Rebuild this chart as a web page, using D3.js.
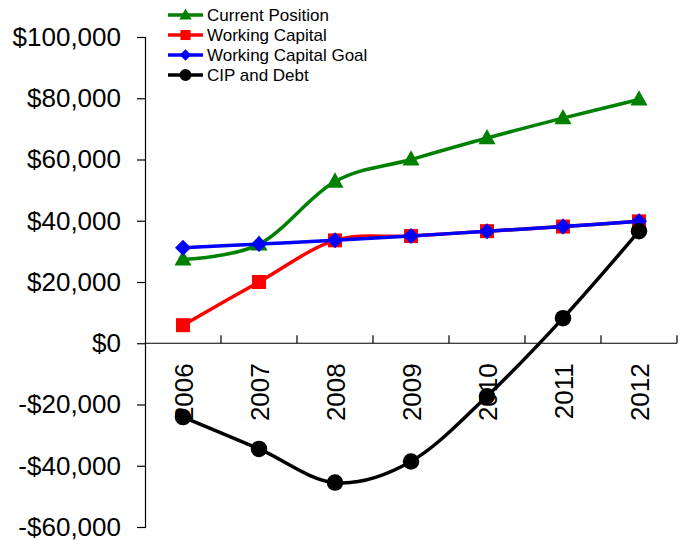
<!DOCTYPE html>
<html>
<head>
<meta charset="utf-8">
<script src="https://cdn.jsdelivr.net/npm/d3@7"></script>
<style>
  body { margin: 0; background: #fff; }
  text { font-family: "Liberation Sans", Arial, sans-serif; fill: #000; }
</style>
</head>
<body>
<div id="chart"></div>
<script>
// chart data
const years = ["2006", "2007", "2008", "2009", "2010", "2011", "2012"];
const currentPosition = [27400, 32300, 52800, 60000, 67000, 73500, 79600];
const workingCapital = [5900, 20000, 33600, 35000, 36600, 38100, 39800];
const workingCapitalGoal = [31200, 32400, 33600, 35000, 36600, 38100, 39800];
const cipAndDebt = [-24100, -34500, -45500, -38600, -17300, 8200, 36600];
const yTicks = [100000, 80000, 60000, 40000, 20000, 0, -20000, -40000, -60000];

const series = [
  { name: "Current Position", values: currentPosition, color: "#008000", marker: "triangle" },
  { name: "Working Capital", values: workingCapital, color: "#ff0000", marker: "square" },
  { name: "Working Capital Goal", values: workingCapitalGoal, color: "#0000ff", marker: "diamond" },
  { name: "CIP and Debt", values: cipAndDebt, color: "#000000", marker: "circle" }
];

const width = 682, height = 541;
const plotLeft = 145, plotRight = 677, plotTop = 37, plotBottom = 527;

const svg = d3.select("#chart").append("svg")
  .attr("width", width)
  .attr("height", height);

const x = d3.scaleBand().domain(years).range([plotLeft, plotRight]);
const y = d3.scaleLinear().domain([-60000, 100000]).range([plotBottom, plotTop]);

// y axis
const fmt = v => (v < 0 ? "-$" : "$") + d3.format(",")(Math.abs(v));
const yAxis = svg.append("g")
  .attr("transform", `translate(${plotLeft},0)`)
  .call(d3.axisLeft(y).tickValues(yTicks).tickFormat(fmt).tickSize(8).tickPadding(16));
yAxis.select(".domain").attr("stroke", "#000").attr("stroke-width", 1.2);
yAxis.selectAll(".tick line").attr("stroke", "#000").attr("stroke-width", 1.2);
yAxis.selectAll(".tick text").style("font-size", "26px");

// x axis at zero, ticks between categories pointing up
const xAxis = svg.append("g").attr("transform", `translate(0,${y(0)})`);
xAxis.append("line")
  .attr("x1", plotLeft).attr("x2", plotRight)
  .attr("stroke", "#000").attr("stroke-width", 1.2);
xAxis.selectAll(".xtick")
  .data(years)
  .enter().append("line")
  .attr("x1", d => x(d) + x.bandwidth())
  .attr("x2", d => x(d) + x.bandwidth())
  .attr("y1", 0).attr("y2", -8)
  .attr("stroke", "#000").attr("stroke-width", 1.2);
xAxis.selectAll(".xlabel")
  .data(years)
  .enter().append("text")
  .attr("transform", d => `translate(${x(d) + x.bandwidth() / 2 + 9.5},20) rotate(-90)`)
  .attr("text-anchor", "end")
  .style("font-size", "26px")
  .text(d => d);

// marker shapes; size here is the box width in px
const shapes = {
  triangle: { draw(ctx, s) { const h = s * 0.9; ctx.moveTo(0, -h * 0.6); ctx.lineTo(s / 2, h * 0.4); ctx.lineTo(-s / 2, h * 0.4); ctx.closePath(); } },
  square: { draw(ctx, s) { ctx.rect(-s / 2, -s / 2, s, s); } },
  diamond: { draw(ctx, s) { const r = s / 2; ctx.moveTo(0, -r); ctx.lineTo(r, 0); ctx.lineTo(0, r); ctx.lineTo(-r, 0); ctx.closePath(); } },
  circle: { draw(ctx, s) { const r = s / 2; ctx.moveTo(r, 0); ctx.arc(0, 0, r, 0, 2 * Math.PI); } }
};
const markerSize = { triangle: 17, square: 14, diamond: 16, circle: 16.5 };

// lines
const line = d3.line()
  .x((d, i) => x(years[i]) + x.bandwidth() / 2)
  .y(d => y(d))
  .curve(d3.curveCardinal.tension(0));

series.forEach(s => {
  const g = svg.append("g");
  g.append("path")
    .datum(s.values)
    .attr("d", line)
    .attr("fill", "none")
    .attr("stroke", s.color)
    .attr("stroke-width", 3.5);
  g.selectAll("path.mk")
    .data(s.values)
    .enter().append("path")
    .attr("class", "mk")
    .attr("transform", (d, i) => `translate(${x(years[i]) + x.bandwidth() / 2},${y(d)})`)
    .attr("d", d3.symbol().type(shapes[s.marker]).size(markerSize[s.marker]))
    .attr("fill", s.color);
});

// legend
const legend = svg.append("g").attr("transform", "translate(168,15)");
series.forEach((s, i) => {
  const row = legend.append("g").attr("transform", `translate(0,${i * 20})`);
  row.append("line")
    .attr("x1", 0).attr("x2", 35)
    .attr("stroke", s.color).attr("stroke-width", 3.5);
  row.append("path")
    .attr("transform", "translate(17.5,0)")
    .attr("d", d3.symbol().type(shapes[s.marker]).size(markerSize[s.marker] * 0.72))
    .attr("fill", s.color);
  row.append("text")
    .attr("x", 39).attr("y", 0)
    .attr("dy", "0.36em")
    .style("font-size", "17px")
    .text(s.name);
});
</script>
</body>
</html>
